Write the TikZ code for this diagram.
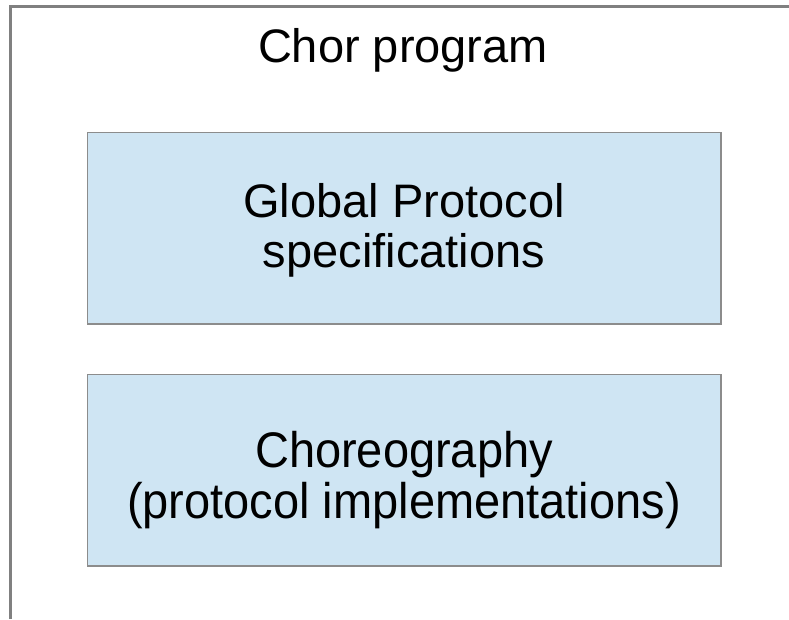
\documentclass[tikz,border=0pt]{standalone}
\usepackage{fontspec}
\setmainfont{Liberation Sans}
\definecolor{framegray}{HTML}{808080}
\definecolor{boxfill}{HTML}{CFE5F3}
\definecolor{boxline}{HTML}{8C8C8C}
\begin{document}
\begin{tikzpicture}[x=1pt,y=-1pt,
  bigtext/.style={font=\fontsize{47}{51}\selectfont, inner sep=0pt, anchor=base, align=center},
  talltext/.style={bigtext, font=\fontsize{50}{51}\selectfont, xscale=0.94},
  panel/.style={draw=boxline, fill=boxfill, line width=1.3pt}]
\useasboundingbox (0,0) rectangle (789,619);
\draw[framegray, line width=3pt] (10.5,619) -- (10.5,6.5) -- (789,6.5);
\node[bigtext] (title) at (403,62) {Chor program};
\draw[panel] (87.5,132.5) rectangle (721,324);
\node[bigtext] (g1) at (404,217) {Global Protocol};
\node[bigtext] (g2) at (404,267) {specifications};
\draw[panel] (87.5,374.5) rectangle (721,566);
\node[talltext] (c1) at (404,467.5) {Choreography};
\node[talltext] (c2) at (404,518) {(protocol implementations)};
\end{tikzpicture}
\end{document}
